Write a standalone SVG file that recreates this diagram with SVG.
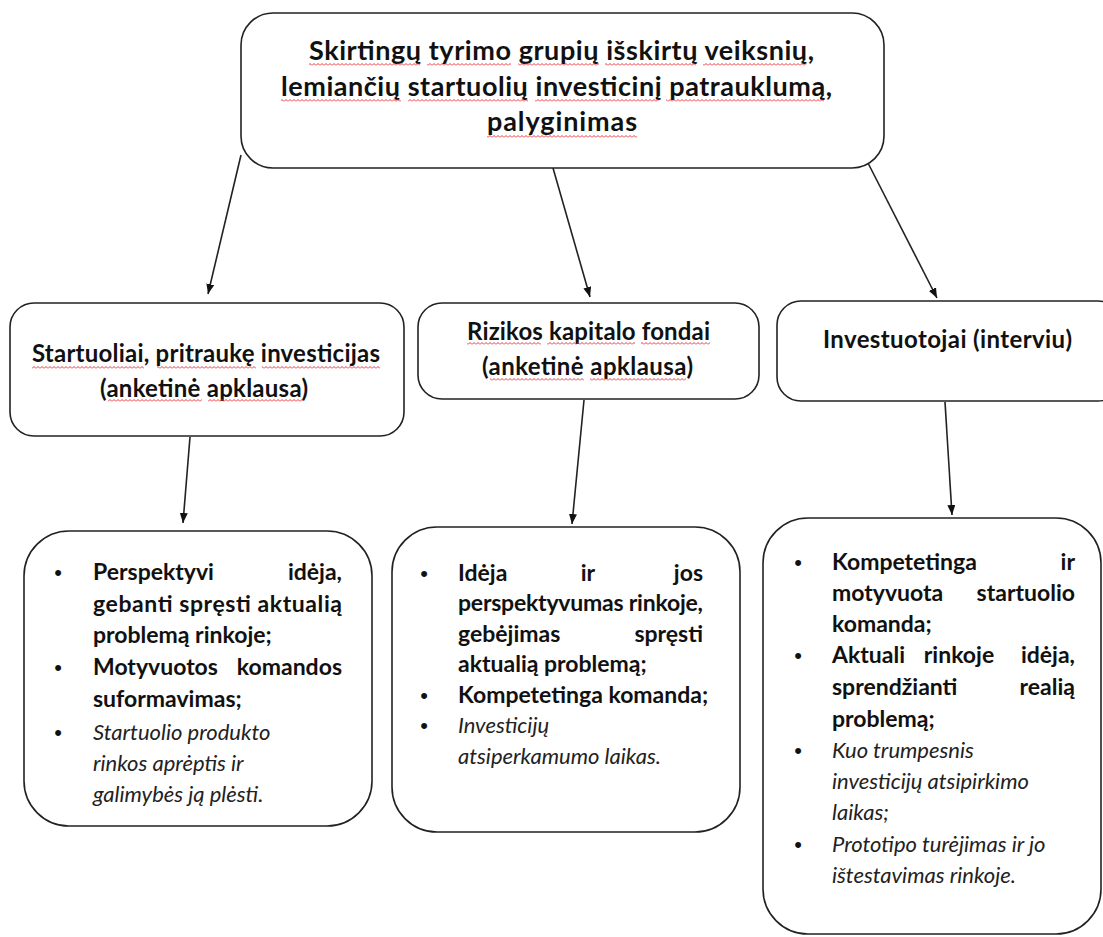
<svg xmlns="http://www.w3.org/2000/svg" width="1103" height="937" viewBox="0 0 1103 937">
<defs>
<style>
.box{fill:#fff;stroke:#222;stroke-width:1.6}
.t{font-family:Lato,"Open Sans","Liberation Sans",sans-serif;fill:#111}
.title{font-size:27px;font-weight:700}
.mid{font-size:24px;font-weight:700}
.b{font-size:23px;font-weight:700}
.i{font-size:22px;font-style:italic;font-weight:400;fill:#222}
.bul{font-family:"Liberation Sans",sans-serif;font-size:22px;fill:#111;text-anchor:middle}
.e{text-anchor:end}
.m{text-anchor:middle}
.con{stroke:#222;stroke-width:1.6;fill:none;marker-end:url(#ah)}
.sq{fill:url(#sq)}
</style>
<marker id="ah" markerUnits="userSpaceOnUse" viewBox="0 0 10 8" markerWidth="10" markerHeight="8" refX="10" refY="4" orient="auto"><path d="M0,0 L10,4 L0,8 z" fill="#111"/></marker>
<pattern id="sq" patternUnits="userSpaceOnUse" width="4" height="3"><path d="M0,2.5 L2,0.5 L4,2.5" fill="none" stroke="#e8202a" stroke-width="0.9"/></pattern>
</defs>
<rect width="1103" height="937" fill="#fff"/>

<g id="connectors">
<path class="con" d="M241,155 L208,294"/>
<path class="con" d="M553,168 L590,297"/>
<path class="con" d="M868,163 L937,298"/>
<path class="con" d="M190,437 L183,523"/>
<path class="con" d="M584,400 L572,524"/>
<path class="con" d="M945,402 L952,515"/>
</g>

<g id="n-title">
<rect class="box" x="241" y="13" width="643" height="155" rx="32"/>
<text class="t title" x="309" y="60" textLength="505" lengthAdjust="spacing">Skirtingų tyrimo grupių išskirtų veiksnių,</text>
<text class="t title" x="281" y="96" textLength="551" lengthAdjust="spacing">lemiančių startuolių investicinį patrauklumą,</text>
<text class="t title" x="487" y="131" textLength="150" lengthAdjust="spacing">palyginimas</text>
<rect class="sq" x="309" y="63" width="111" height="3"/>
<rect class="sq" x="427" y="63" width="84" height="3"/>
<rect class="sq" x="518" y="63" width="81" height="3"/>
<rect class="sq" x="605" y="63" width="91" height="3"/>
<rect class="sq" x="703" y="63" width="103" height="3"/>
<rect class="sq" x="281" y="99" width="120" height="3"/>
<rect class="sq" x="408" y="99" width="120" height="3"/>
<rect class="sq" x="535" y="99" width="124" height="3"/>
<rect class="sq" x="666" y="99" width="158" height="3"/>
<rect class="sq" x="487" y="135" width="150" height="3"/>
</g>

<g id="n-startuoliai">
<rect class="box" x="10" y="303" width="394" height="133" rx="24"/>
<text class="t mid" x="32" y="362" textLength="348" lengthAdjust="spacing">Startuoliai, pritraukę investicijas</text>
<text class="t mid" x="100" y="397" textLength="208" lengthAdjust="spacing">(anketinė apklausa)</text>
<rect class="sq" x="32" y="366" width="112" height="3"/>
<rect class="sq" x="157" y="366" width="99" height="3"/>
<rect class="sq" x="262" y="366" width="118" height="3"/>
<rect class="sq" x="108" y="399" width="94" height="3"/>
<rect class="sq" x="208" y="399" width="95" height="3"/>
</g>

<g id="n-rkf">
<rect class="box" x="418" y="303" width="341" height="96" rx="24"/>
<text class="t mid" x="467" y="340" textLength="243" lengthAdjust="spacing">Rizikos kapitalo fondai</text>
<text class="t mid" x="482" y="375" textLength="211" lengthAdjust="spacing">(anketinė apklausa)</text>
<rect class="sq" x="467" y="342" width="74" height="3"/>
<rect class="sq" x="547" y="342" width="88" height="3"/>
<rect class="sq" x="641" y="342" width="69" height="3"/>
<rect class="sq" x="490" y="378" width="94" height="3"/>
<rect class="sq" x="590" y="378" width="96" height="3"/>
</g>

<g id="n-investuotojai">
<rect class="box" x="777" y="301" width="345" height="100" rx="24"/>
<text class="t mid" x="823" y="348" textLength="249" lengthAdjust="spacing">Investuotojai (interviu)</text>
</g>

<g id="n-list1">
<rect class="box" x="24" y="531" width="348" height="295" rx="45"/>
<text class="bul" x="58" y="580">•</text>
<text class="t b" x="93" y="580">Perspektyvi</text>
<text class="t b e" x="342" y="580">idėja,</text>
<text class="t b" x="93" y="612" textLength="249" lengthAdjust="spacing">gebanti spręsti aktualią</text>
<text class="t b" x="93" y="643">problemą rinkoje;</text>
<text class="bul" x="58" y="675">•</text>
<text class="t b" x="93" y="675">Motyvuotos</text>
<text class="t b e" x="342" y="675">komandos</text>
<text class="t b" x="93" y="707">suformavimas;</text>
<text class="bul" x="58" y="740">•</text>
<text class="t i" x="93" y="740">Startuolio produkto</text>
<text class="t i" x="93" y="771">rinkos aprėptis ir</text>
<text class="t i" x="93" y="802">galimybės ją plėsti.</text>
</g>

<g id="n-list2">
<rect class="box" x="392" y="527" width="348" height="305" rx="45"/>
<text class="bul" x="424" y="581">•</text>
<text class="t b" x="458" y="581">Idėja</text>
<text class="t b m" x="588" y="581">ir</text>
<text class="t b e" x="703" y="581">jos</text>
<text class="t b" x="458" y="611" textLength="245" lengthAdjust="spacing">perspektyvumas rinkoje,</text>
<text class="t b" x="458" y="642">gebėjimas</text>
<text class="t b e" x="703" y="642">spręsti</text>
<text class="t b" x="458" y="672">aktualią problemą;</text>
<text class="bul" x="424" y="703">•</text>
<text class="t b" x="458" y="703">Kompetetinga komanda;</text>
<text class="bul" x="424" y="733">•</text>
<text class="t i" x="458" y="733">Investicijų</text>
<text class="t i" x="458" y="764">atsiperkamumo laikas.</text>
</g>

<g id="n-list3">
<rect class="box" x="763" y="518" width="338" height="416" rx="45"/>
<text class="bul" x="798" y="570">•</text>
<text class="t b" x="832" y="570">Kompetetinga</text>
<text class="t b e" x="1075" y="570">ir</text>
<text class="t b" x="832" y="601">motyvuota</text>
<text class="t b e" x="1075" y="601">startuolio</text>
<text class="t b" x="832" y="632">komanda;</text>
<text class="bul" x="798" y="663">•</text>
<text class="t b" x="832" y="663">Aktuali</text>
<text class="t b m" x="959" y="663">rinkoje</text>
<text class="t b e" x="1075" y="663">idėja,</text>
<text class="t b" x="832" y="695">sprendžianti</text>
<text class="t b e" x="1075" y="695">realią</text>
<text class="t b" x="832" y="727">problemą;</text>
<text class="bul" x="798" y="758">•</text>
<text class="t i" x="832" y="758">Kuo trumpesnis</text>
<text class="t i" x="832" y="789">investicijų atsipirkimo</text>
<text class="t i" x="832" y="820">laikas;</text>
<text class="bul" x="798" y="852">•</text>
<text class="t i" x="832" y="852">Prototipo turėjimas ir jo</text>
<text class="t i" x="832" y="883">ištestavimas rinkoje.</text>
</g>
</svg>
